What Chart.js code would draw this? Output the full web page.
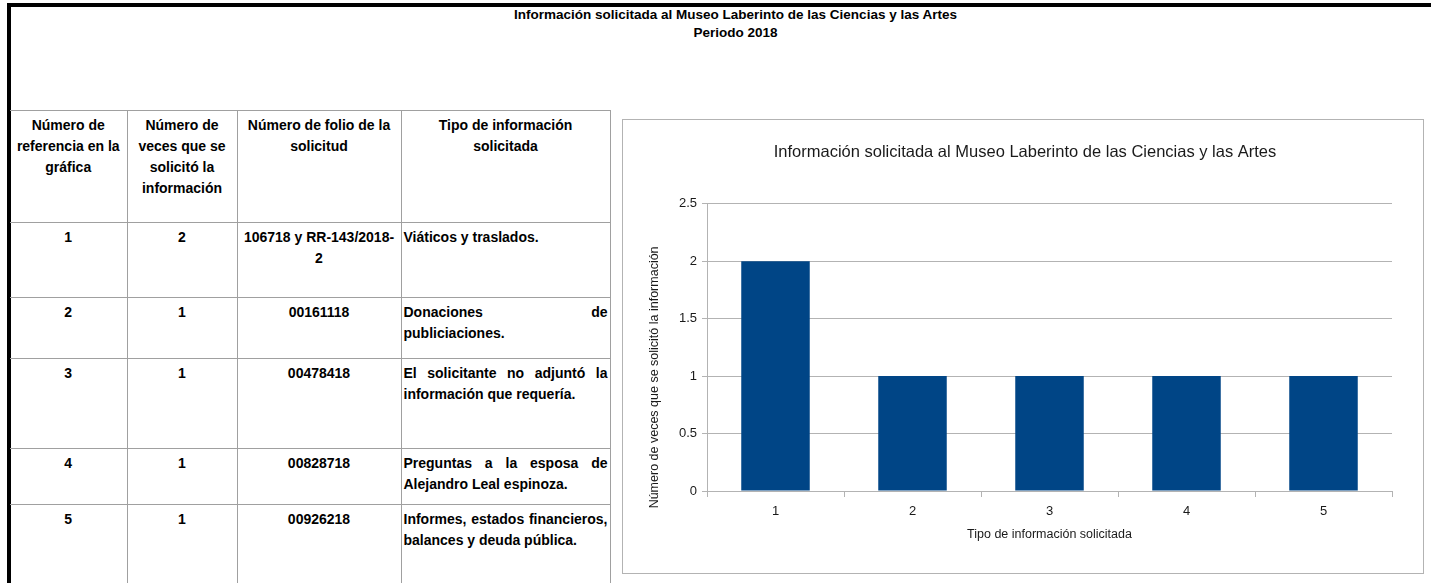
<!DOCTYPE html>
<html lang="es">
<head>
  <meta charset="UTF-8">
  <title>Información solicitada al Museo Laberinto de las Ciencias y las Artes</title>
  <script src="https://cdn.jsdelivr.net/npm/chart.js@4.4.1/dist/chart.umd.min.js"></script>
  <style>
    * {
      margin: 0;
      padding: 0;
      box-sizing: border-box;
    }
    body {
      width: 1431px;
      height: 583px;
      overflow: hidden;
      background: #fff;
      font-family: 'Liberation Sans', Arial, sans-serif;
      color: #000;
      position: relative;
    }
    .frame-top {
      position: absolute;
      left: 7px;
      top: 3px;
      width: 1424px;
      height: 4px;
      background: #000;
    }
    .frame-left {
      position: absolute;
      left: 7px;
      top: 3px;
      width: 4px;
      height: 580px;
      background: #000;
    }
    .heading {
      position: absolute;
      left: 13px;
      top: 6px;
      width: 1445px;
      text-align: center;
      font-weight: bold;
      font-size: 13.5px;
      line-height: 18px;
    }
    table {
      position: absolute;
      left: 10px;
      top: 110px;
      border-collapse: collapse;
      table-layout: fixed;
      font-weight: bold;
      font-size: 14px;
      line-height: 21px;
    }
    td {
      border: 1px solid #a0a0a0;
      vertical-align: top;
      padding: 4px 2px 0 2px;
      text-align: center;
    }
    td:first-child {
      border-left: none;
    }
    td.folio {
      padding-left: 4px;
      padding-right: 4px;
    }
    td.tipo {
      text-align: justify;
    }
    tr.cabecera td:last-child {
      padding-left: 20px;
      padding-right: 20px;
    }
    .chart-box {
      position: absolute;
      left: 622px;
      top: 119px;
      width: 802px;
      height: 455px;
      border: 1px solid #b3b3b3;
    }
    .chart-box canvas {
      display: block;
    }
  </style>
</head>
<body>
  <div class="frame-top"></div>
  <div class="frame-left"></div>
  <div class="heading">
    Información solicitada al Museo Laberinto de las Ciencias y las Artes<br>
    Periodo 2018
  </div>

  <table id="tabla">
    <colgroup>
      <col style="width:117px">
      <col style="width:110px">
      <col style="width:164px">
      <col style="width:209px">
    </colgroup>
    <tbody id="filas"></tbody>
  </table>

  <div class="chart-box">
    <canvas id="grafica" width="800" height="453"></canvas>
  </div>

  <script>
    const encabezados = [
      'Número de referencia en la gráfica',
      'Número de veces que se solicitó la información',
      'Número de folio de la solicitud',
      'Tipo de información solicitada'
    ];
    const referencias = ['1', '2', '3', '4', '5'];
    const veces = [2, 1, 1, 1, 1];
    const folios = ['106718 y RR-143/2018-2', '00161118', '00478418', '00828718', '00926218'];
    const tipos = [
      'Viáticos y traslados.',
      'Donaciones de publiciaciones.',
      'El solicitante no adjuntó la información que requería.',
      'Preguntas a la esposa de Alejandro Leal espinoza.',
      'Informes, estados financieros, balances y deuda pública.'
    ];
    const altosFila = [112, 75, 61, 90, 56, 90];

    const tituloGrafica = 'Información solicitada al Museo Laberinto de las Ciencias y las Artes';
    const tituloX = 'Tipo de información solicitada';
    const tituloEjeY = 'Número de veces que se solicitó la información';

    // table
    const filas = document.getElementById('filas');
    let tr = document.createElement('tr');
    tr.className = 'cabecera';
    tr.style.height = altosFila[0] + 'px';
    encabezados.forEach(t => {
      const td = document.createElement('td');
      td.textContent = t;
      tr.appendChild(td);
    });
    filas.appendChild(tr);

    referencias.forEach((ref, i) => {
      tr = document.createElement('tr');
      tr.style.height = altosFila[i + 1] + 'px';
      const celdas = [ref, String(veces[i]), folios[i], tipos[i]];
      celdas.forEach((t, j) => {
        const td = document.createElement('td');
        if (j === 2) {
          td.className = 'folio';
          td.innerHTML = t.replace('2018-2', '2018-<wbr>2');
        } else {
          td.textContent = t;
        }
        if (j === 3) td.className = 'tipo';
        tr.appendChild(td);
      });
      filas.appendChild(tr);
    });

    // chart
    const fuente = "'Liberation Sans', Arial, sans-serif";
    const gris = '#b3b3b3';
    const texto = '#1a1a1a';

    // y title sits a bit below the middle of the axis, as in the original
    const tituloY = {
      id: 'tituloY',
      afterDraw(chart) {
        const { ctx, chartArea } = chart;
        ctx.save();
        ctx.translate(32, (chartArea.top + chartArea.bottom) / 2 + 30);
        ctx.rotate(-Math.PI / 2);
        ctx.font = '12.5px ' + fuente;
        ctx.fillStyle = texto;
        ctx.textAlign = 'center';
        ctx.textBaseline = 'middle';
        ctx.fillText(tituloEjeY, 0, 0);
        ctx.restore();
      }
    };

    const ctx = document.getElementById('grafica').getContext('2d');
    new Chart(ctx, {
      type: 'bar',
      data: {
        labels: referencias,
        datasets: [{
          label: tituloEjeY,
          data: veces,
          backgroundColor: '#004586',
          borderWidth: 0,
          categoryPercentage: 0.5,
          barPercentage: 1
        }]
      },
      options: {
        responsive: false,
        animation: false,
        devicePixelRatio: 1,
        layout: { padding: { left: 35, right: 31, top: 0, bottom: 0 } },
        plugins: {
          legend: { display: false },
          tooltip: { enabled: false },
          title: {
            display: true,
            text: tituloGrafica,
            color: texto,
            font: { family: fuente, size: 16.5, weight: 'normal' },
            padding: { top: 23, bottom: 41 }
          }
        },
        scales: {
          x: {
            grid: {
              display: true,
              drawOnChartArea: false,
              drawTicks: true,
              tickLength: 6,
              color: gris
            },
            border: { display: true, color: gris },
            ticks: {
              color: texto,
              font: { family: fuente, size: 13 },
              padding: 7
            },
            title: {
              display: true,
              text: tituloX,
              color: texto,
              font: { family: fuente, size: 12.5 },
              padding: { top: 0, bottom: 31 }
            },
            afterFit: s => { s.height = 82; }
          },
          y: {
            min: 0,
            max: 2.5,
            grid: {
              color: gris,
              drawTicks: true,
              tickLength: 5
            },
            border: { display: true, color: gris },
            ticks: {
              stepSize: 0.5,
              color: texto,
              font: { family: fuente, size: 13 },
              padding: 5,
              callback: v => String(v)
            },
            afterFit: s => { s.width = 49; }
          }
        }
      },
      plugins: [tituloY]
    });
  </script>
</body>
</html>
